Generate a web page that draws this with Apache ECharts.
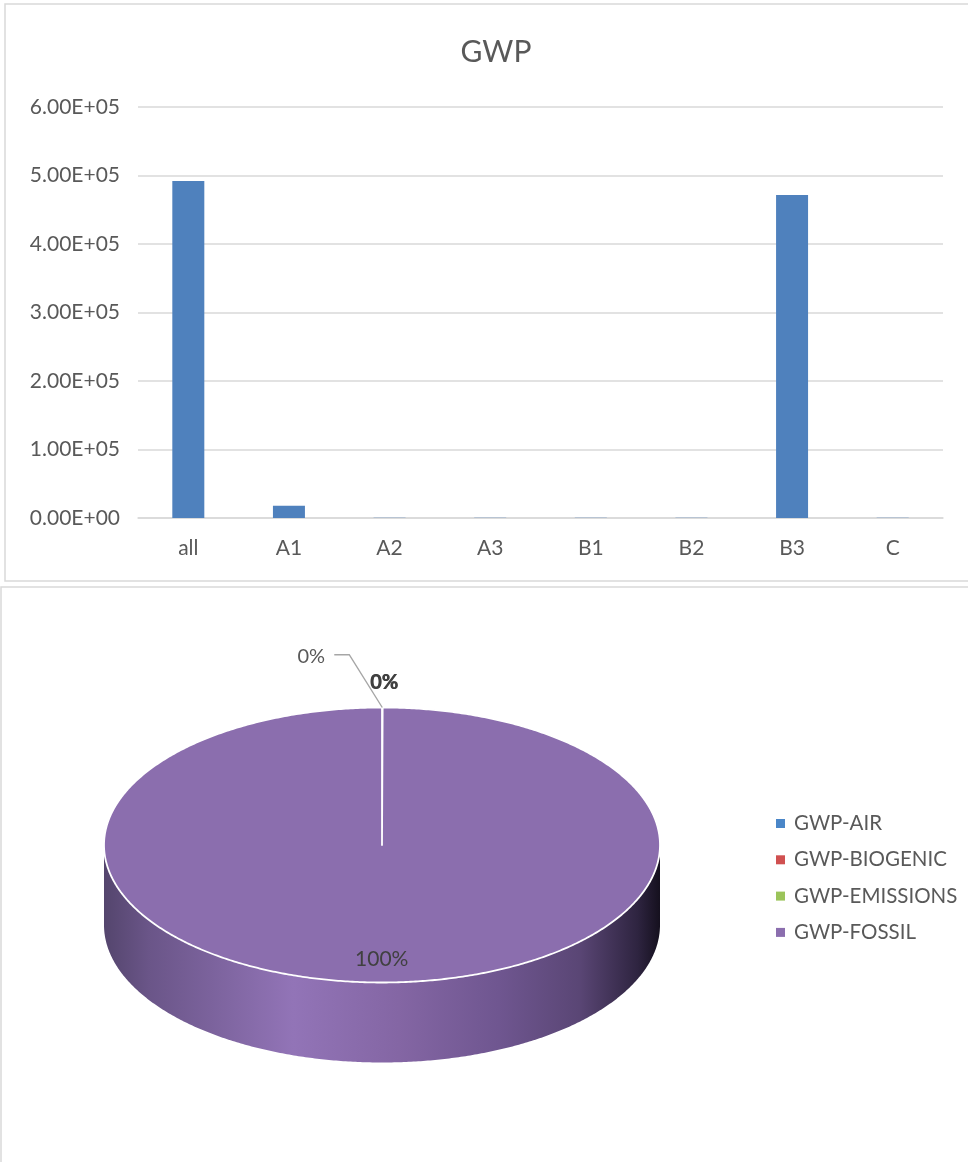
<!DOCTYPE html>
<html>
<head>
<meta charset="utf-8">
<script src="https://cdn.jsdelivr.net/npm/echarts@6/dist/echarts.min.js"></script>
<style>
html,body{margin:0;padding:0;background:#fff;}
#chart{width:968px;height:1162px;}
</style>
</head>
<body>
<div id="chart"></div>
<script>
// ---- data ----
var barTitle = 'GWP';
var categories = ['all', 'A1', 'A2', 'A3', 'B1', 'B2', 'B3', 'C'];
var barValues = [492000, 18000, 500, 400, 300, 300, 471500, 500];
var yTicks = { min: 0, max: 600000, interval: 100000 };

var pieNames = ['GWP-AIR', 'GWP-BIOGENIC', 'GWP-EMISSIONS', 'GWP-FOSSIL'];
var pieValues = [0, 150, 40, 491800];
var pieColors = ['#4A86C8', '#D05050', '#9BC45A', '#8B6EAE'];

// ---- helpers ----
var FONT = 'Lato, sans-serif';
function sciLabel(v) {
  if (v === 0) return '0.00E+00';
  var e = Math.floor(Math.log10(Math.abs(v)));
  var m = v / Math.pow(10, e);
  if (Math.abs(m) >= 9.995) { m /= 10; e += 1; }
  var es = (e < 0 ? '-' : '+') + (Math.abs(e) < 10 ? '0' : '') + Math.abs(e);
  return m.toFixed(2) + 'E' + es;
}

// pie geometry (layout only)
var PIE = { cx: 382, cy: 845, rx: 278, ry: 137.5, depth: 80 };
var pieTotal = pieValues.reduce(function (a, b) { return a + b; }, 0);
function ePt(theta, yOff) {
  return [PIE.cx + PIE.rx * Math.sin(theta), PIE.cy - PIE.ry * Math.cos(theta) + (yOff || 0)];
}
function arcPts(a0, a1, yOff) {
  var n = Math.max(2, Math.ceil(Math.abs(a1 - a0) / (Math.PI / 360)));
  var pts = [];
  for (var k = 0; k <= n; k++) pts.push(ePt(a0 + (a1 - a0) * k / n, yOff));
  return pts;
}
var sideGradient = {
  type: 'linear', global: true,
  x: PIE.cx - PIE.rx, y: 0, x2: PIE.cx + PIE.rx, y2: 0,
  colorStops: [
    { offset: 0, color: '#54456d' },
    { offset: 0.08, color: '#6a5588' },
    { offset: 0.34, color: '#9274b7' },
    { offset: 0.53, color: '#8466a4' },
    { offset: 0.71, color: '#6f5690' },
    { offset: 0.855, color: '#5a4675' },
    { offset: 0.96, color: '#2e2440' },
    { offset: 1, color: '#15101e' }
  ]
};

function renderPieSlice(params, api) {
  var i = params.dataIndex;
  var before = 0;
  for (var j = 0; j < i; j++) before += pieValues[j];
  var v = api.value(0);
  var a0 = before / pieTotal * Math.PI * 2;
  var a1 = (before + v) / pieTotal * Math.PI * 2;
  var children = [];
  // side wall (front half only)
  var s0 = Math.max(a0, Math.PI / 2), s1 = Math.min(a1, Math.PI * 1.5);
  if (s1 > s0) {
    var top = arcPts(s0, s1, 0);
    var bot = arcPts(s0, s1, PIE.depth).reverse();
    children.push({
      type: 'polygon', z2: 1,
      shape: { points: top.concat(bot) },
      style: { fill: sideGradient, stroke: null }
    });
  }
  // top face
  var facePts = [[PIE.cx, PIE.cy]].concat(arcPts(a0, a1, 0));
  children.push({
    type: 'polygon', z2: 10,
    shape: { points: facePts },
    style: { fill: pieColors[i], stroke: '#ffffff', lineWidth: 1.8, lineJoin: 'round' }
  });
  // label
  var pct = Math.round(v / pieTotal * 100) + '%';
  var mid = (a0 + a1) / 2;
  var share = v / pieTotal;
  if (share > 0.5) {
    var p = [PIE.cx + PIE.rx * 0.83 * Math.sin(mid), PIE.cy - PIE.ry * 0.83 * Math.cos(mid)];
    children.push({
      type: 'text', z2: 20, x: p[0], y: p[1],
      style: { text: pct, fill: '#404040', font: '21px ' + FONT, align: 'center', verticalAlign: 'middle' }
    });
  } else {
    var smallIdx = 0;
    for (var q = 0; q < i; q++) if (pieValues[q] / pieTotal <= 0.5) smallIdx++;
    var outP = [PIE.cx + PIE.rx * 1.0 * Math.sin(mid), PIE.cy - PIE.ry * 1.18 * Math.cos(mid)];
    if (smallIdx % 2 === 0) {
      children.push({
        type: 'text', z2: 20, x: outP[0] + 2, y: outP[1],
        style: { text: pct, fill: '#404040', font: 'bold 20px ' + FONT, align: 'center', verticalAlign: 'middle' }
      });
    } else {
      var rim = ePt(mid, 0);
      var lx = outP[0] - 71, ly = outP[1] - 26;
      children.push({
        type: 'text', z2: 20, x: lx, y: ly,
        style: { text: pct, fill: '#595959', font: '20px ' + FONT, align: 'center', verticalAlign: 'middle' }
      });
      children.push({
        type: 'polyline', z2: 20,
        shape: { points: [[lx + 23, ly - 2], [lx + 38, ly - 2], rim] },
        style: { stroke: '#a6a6a6', lineWidth: 1.4, fill: null }
      });
    }
  }
  return { type: 'group', children: children };
}

var chart = echarts.init(document.getElementById('chart'), null, { renderer: 'canvas' });

var series = [{
  name: barTitle,
  type: 'bar',
  data: barValues,
  barWidth: 32,
  itemStyle: { color: '#4F81BD' },
  silent: true
}, {
  name: 'pie3d',
  type: 'custom',
  coordinateSystem: 'none',
  data: pieValues,
  renderItem: renderPieSlice,
  silent: true
}];
pieNames.forEach(function (n, i) {
  series.push({
    name: n, type: 'custom', coordinateSystem: 'none', data: [],
    itemStyle: { color: pieColors[i] },
    renderItem: function () { return null; }
  });
});

chart.setOption({
  animation: false,
  backgroundColor: '#ffffff',
  title: {
    text: barTitle, left: 491, top: 32, textAlign: 'center',
    textStyle: { fontFamily: FONT, fontSize: 30, fontWeight: 'normal', color: '#595959' }
  },
  graphic: [
    { type: 'rect', shape: { x: 5, y: 4, width: 990, height: 577 }, style: { fill: null, stroke: '#d9d9d9', lineWidth: 1.5 }, silent: true, z: -1 },
    { type: 'rect', shape: { x: 1, y: 587, width: 990, height: 600 }, style: { fill: null, stroke: '#d9d9d9', lineWidth: 1.5 }, silent: true, z: -1 }
  ],
  legend: {
    orient: 'vertical', left: 771, top: 808,
    data: pieNames.map(function (n) { return { name: n, icon: 'rect' }; }),
    itemWidth: 9, itemHeight: 9, itemGap: 15.3,
    selectedMode: false,
    textStyle: { fontFamily: FONT, fontSize: 20.5, color: '#595959', padding: [0, 0, 0, 4] }
  },
  grid: { left: 138, right: 25, top: 107, height: 411, containLabel: false },
  xAxis: {
    type: 'category', data: categories,
    axisLine: { lineStyle: { color: '#d9d9d9', width: 1.5 } },
    axisTick: { show: false },
    axisLabel: { fontFamily: FONT, fontSize: 21, color: '#595959', margin: 20 }
  },
  yAxis: {
    type: 'value', min: yTicks.min, max: yTicks.max, interval: yTicks.interval,
    axisLine: { show: false }, axisTick: { show: false },
    splitLine: { lineStyle: { color: '#d9d9d9', width: 1.5 } },
    axisLabel: { fontFamily: FONT, fontSize: 21, color: '#595959', margin: 18, formatter: sciLabel }
  },
  series: series
});
</script>
</body>
</html>
